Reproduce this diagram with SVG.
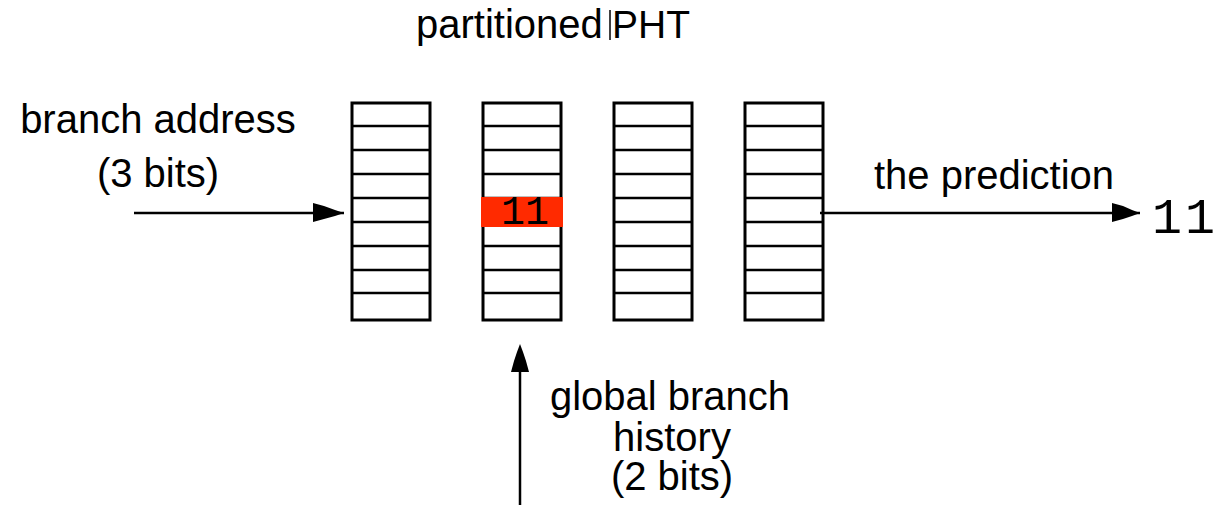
<svg xmlns="http://www.w3.org/2000/svg" width="1216" height="505" viewBox="0 0 1216 505">
<style>
.lbl{font-family:"Liberation Sans",Arial,sans-serif;font-size:40px;fill:#000}
.mono{font-family:"Liberation Mono","Courier New",monospace;fill:#000}
.col rect{fill:#fff;stroke:#000;stroke-width:3}
.conn line{stroke:#000;stroke-width:2.5}
</style>
<defs>
<g id="rows" stroke="#000" stroke-width="2.7">
<line x1="0" y1="126" x2="78" y2="126"/>
<line x1="0" y1="150" x2="78" y2="150"/>
<line x1="0" y1="174" x2="78" y2="174"/>
<line x1="0" y1="198" x2="78" y2="198"/>
<line x1="0" y1="222" x2="78" y2="222"/>
<line x1="0" y1="246" x2="78" y2="246"/>
<line x1="0" y1="270" x2="78" y2="270"/>
<line x1="0" y1="293" x2="78" y2="293"/>
</g>
</defs>
<rect width="1216" height="505" fill="#fff"/>
<g id="title">
<text class="lbl" x="416" y="38">partitioned</text>
<line x1="610" y1="10" x2="610" y2="40" stroke="#000" stroke-width="1.5"/>
<text class="lbl" x="612" y="38" style="font-size:39px">PHT</text>
</g>
<g id="pht0" class="col" transform="translate(352,0)">
<rect x="0" y="103" width="78" height="217"/>
<use href="#rows"/>
</g>
<g id="pht1" class="col" transform="translate(483,0)">
<rect x="0" y="103" width="78" height="217"/>
<use href="#rows"/>
<rect x="-2" y="197" width="82" height="30" style="fill:#ff2a00;stroke:none"/>
<text class="mono" x="42" y="224" text-anchor="middle" font-size="40">11</text>
</g>
<g id="pht2" class="col" transform="translate(614,0)">
<rect x="0" y="103" width="78" height="217"/>
<use href="#rows"/>
</g>
<g id="pht3" class="col" transform="translate(745,0)">
<rect x="0" y="103" width="78" height="217"/>
<use href="#rows"/>
</g>
<g id="address-label">
<text class="lbl" x="158" y="133" text-anchor="middle">branch address</text>
<text class="lbl" x="158" y="187" text-anchor="middle">(3 bits)</text>
</g>
<g id="prediction-label">
<text class="lbl" x="994" y="189" text-anchor="middle">the prediction</text>
</g>
<g id="prediction-value">
<text class="mono" x="1152" y="233" font-size="50" letter-spacing="3">11</text>
</g>
<g id="history-label">
<text class="lbl" x="670" y="410" text-anchor="middle">global branch</text>
<text class="lbl" x="672" y="451" text-anchor="middle">history</text>
<text class="lbl" x="672" y="490" text-anchor="middle">(2 bits)</text>
</g>
<g id="connectors" class="conn">
<line x1="134" y1="213" x2="344" y2="213"/>
<polygon points="313,203 324,206 335,210 344,213 335,216 324,219 313,222" fill="#000"/>
<line x1="820" y1="213" x2="1140" y2="213"/>
<polygon points="1112,203 1123,206 1132,210 1140,213 1132,216 1123,219 1112,222" fill="#000"/>
<line x1="520" y1="505" x2="520" y2="350"/>
<polygon points="511,372 514,361 517,352 520,344 523,352 526,361 529,372" fill="#000"/>
</g>
</svg>
